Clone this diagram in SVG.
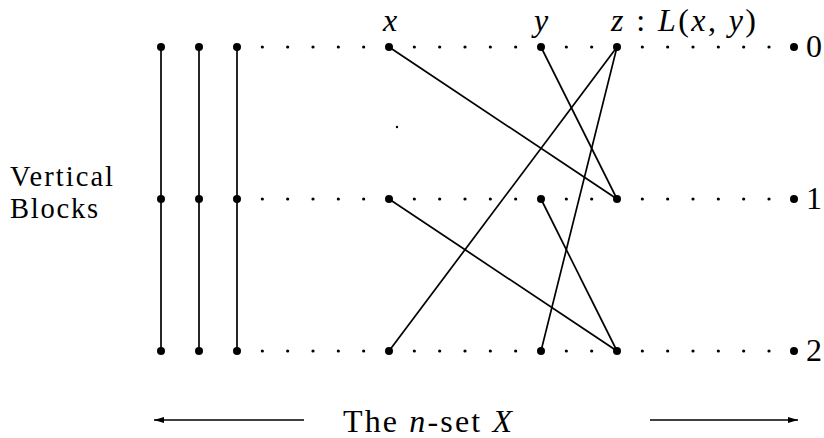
<svg xmlns="http://www.w3.org/2000/svg" width="824" height="438" viewBox="0 0 824 438">
<style>
.big{fill:#000}
.sm{fill:#000}
.ln{stroke:#000;stroke-width:1.7;fill:none}
.t{font-family:"Liberation Serif",serif;font-size:32px;fill:#000}
.s{font-size:28.5px}
.i{font-style:italic}
</style>
<defs>
<marker id="ah" viewBox="0 0 10 6" refX="10" refY="3" markerWidth="10" markerHeight="6" markerUnits="userSpaceOnUse" orient="auto-start-reverse">
<path d="M0,0 L10,3 L0,6 z" fill="#000"/>
</marker>
</defs>
<g id="connectors">
<line class="ln" x1="161" y1="47" x2="161" y2="351"/>
<line class="ln" x1="199" y1="47" x2="199" y2="351"/>
<line class="ln" x1="237" y1="47" x2="237" y2="351"/>
<line class="ln" x1="389" y1="47" x2="617" y2="199"/>
<line class="ln" x1="541" y1="47" x2="617" y2="199"/>
<line class="ln" x1="617" y1="47" x2="389" y2="351"/>
<line class="ln" x1="617" y1="47" x2="541" y2="351"/>
<line class="ln" x1="389" y1="199" x2="617" y2="351"/>
<line class="ln" x1="541" y1="199" x2="617" y2="351"/>
<line class="ln" x1="304" y1="420" x2="154" y2="420" marker-end="url(#ah)"/>
<line class="ln" x1="650" y1="420" x2="798" y2="420" marker-end="url(#ah)"/>
</g>
<g id="dotted-rows">
<g id="row0">
<circle class="sm" cx="262.33" cy="47" r="1.6"/><circle class="sm" cx="287.67" cy="47" r="1.6"/><circle class="sm" cx="313" cy="47" r="1.6"/><circle class="sm" cx="338.33" cy="47" r="1.6"/><circle class="sm" cx="363.67" cy="47" r="1.6"/>
<circle class="sm" cx="414.33" cy="47" r="1.6"/><circle class="sm" cx="439.67" cy="47" r="1.6"/><circle class="sm" cx="465" cy="47" r="1.6"/><circle class="sm" cx="490.33" cy="47" r="1.6"/><circle class="sm" cx="515.67" cy="47" r="1.6"/>
<circle class="sm" cx="566.33" cy="47" r="1.6"/><circle class="sm" cx="591.67" cy="47" r="1.6"/>
<circle class="sm" cx="642.33" cy="47" r="1.6"/><circle class="sm" cx="667.67" cy="47" r="1.6"/><circle class="sm" cx="693" cy="47" r="1.6"/><circle class="sm" cx="718.33" cy="47" r="1.6"/><circle class="sm" cx="743.67" cy="47" r="1.6"/><circle class="sm" cx="769" cy="47" r="1.6"/>
</g>
<g id="row1">
<circle class="sm" cx="262.33" cy="199" r="1.6"/><circle class="sm" cx="287.67" cy="199" r="1.6"/><circle class="sm" cx="313" cy="199" r="1.6"/><circle class="sm" cx="338.33" cy="199" r="1.6"/><circle class="sm" cx="363.67" cy="199" r="1.6"/>
<circle class="sm" cx="414.33" cy="199" r="1.6"/><circle class="sm" cx="439.67" cy="199" r="1.6"/><circle class="sm" cx="465" cy="199" r="1.6"/><circle class="sm" cx="490.33" cy="199" r="1.6"/><circle class="sm" cx="515.67" cy="199" r="1.6"/>
<circle class="sm" cx="566.33" cy="199" r="1.6"/><circle class="sm" cx="591.67" cy="199" r="1.6"/>
<circle class="sm" cx="642.33" cy="199" r="1.6"/><circle class="sm" cx="667.67" cy="199" r="1.6"/><circle class="sm" cx="693" cy="199" r="1.6"/><circle class="sm" cx="718.33" cy="199" r="1.6"/><circle class="sm" cx="743.67" cy="199" r="1.6"/><circle class="sm" cx="769" cy="199" r="1.6"/>
</g>
<g id="row2">
<circle class="sm" cx="262.33" cy="351" r="1.6"/><circle class="sm" cx="287.67" cy="351" r="1.6"/><circle class="sm" cx="313" cy="351" r="1.6"/><circle class="sm" cx="338.33" cy="351" r="1.6"/><circle class="sm" cx="363.67" cy="351" r="1.6"/>
<circle class="sm" cx="414.33" cy="351" r="1.6"/><circle class="sm" cx="439.67" cy="351" r="1.6"/><circle class="sm" cx="465" cy="351" r="1.6"/><circle class="sm" cx="490.33" cy="351" r="1.6"/><circle class="sm" cx="515.67" cy="351" r="1.6"/>
<circle class="sm" cx="566.33" cy="351" r="1.6"/><circle class="sm" cx="591.67" cy="351" r="1.6"/>
<circle class="sm" cx="642.33" cy="351" r="1.6"/><circle class="sm" cx="667.67" cy="351" r="1.6"/><circle class="sm" cx="693" cy="351" r="1.6"/><circle class="sm" cx="718.33" cy="351" r="1.6"/><circle class="sm" cx="743.67" cy="351" r="1.6"/><circle class="sm" cx="769" cy="351" r="1.6"/>
</g>
<circle class="sm" cx="397" cy="127" r="1.2"/>
</g>
<g id="nodes">
<g id="b1-0"><circle class="big" cx="161" cy="47" r="4"/></g>
<g id="b2-0"><circle class="big" cx="199" cy="47" r="4"/></g>
<g id="b3-0"><circle class="big" cx="237" cy="47" r="4"/></g>
<g id="b1-1"><circle class="big" cx="161" cy="199" r="4"/></g>
<g id="b2-1"><circle class="big" cx="199" cy="199" r="4"/></g>
<g id="b3-1"><circle class="big" cx="237" cy="199" r="4"/></g>
<g id="b1-2"><circle class="big" cx="161" cy="351" r="4"/></g>
<g id="b2-2"><circle class="big" cx="199" cy="351" r="4"/></g>
<g id="b3-2"><circle class="big" cx="237" cy="351" r="4"/></g>
<g id="x0"><circle class="big" cx="389" cy="47" r="4"/></g>
<g id="y0"><circle class="big" cx="541" cy="47" r="4"/></g>
<g id="z0"><circle class="big" cx="617" cy="47" r="4"/></g>
<g id="x1"><circle class="big" cx="389" cy="199" r="4"/></g>
<g id="y1"><circle class="big" cx="541" cy="199" r="4"/></g>
<g id="z1"><circle class="big" cx="617" cy="199" r="4"/></g>
<g id="x2"><circle class="big" cx="389" cy="351" r="4"/></g>
<g id="y2"><circle class="big" cx="541" cy="351" r="4"/></g>
<g id="z2"><circle class="big" cx="617" cy="351" r="4"/></g>
<g id="e0"><circle class="big" cx="794" cy="47" r="4"/><text class="t" x="806" y="57">0</text></g>
<g id="e1"><circle class="big" cx="794" cy="199" r="4"/><text class="t" x="806" y="209">1</text></g>
<g id="e2"><circle class="big" cx="794" cy="351" r="4"/><text class="t" x="806" y="361">2</text></g>
</g>
<g id="labels">
<text class="t i" x="390" y="31" text-anchor="middle">x</text>
<text class="t i" x="541" y="31" text-anchor="middle">y</text>
<text class="t" x="611" y="31" textLength="145" lengthAdjust="spacing"><tspan class="i">z</tspan> : <tspan class="i">L</tspan>(<tspan class="i">x</tspan>, <tspan class="i">y</tspan>)</text>
<text class="t s" x="10" y="186" textLength="103" lengthAdjust="spacing">Vertical</text>
<text class="t s" x="10" y="218" textLength="88" lengthAdjust="spacing">Blocks</text>
<text class="t" x="343" y="432" textLength="169" lengthAdjust="spacing">The <tspan class="i">n</tspan>-set <tspan class="i">X</tspan></text>
</g>
</svg>
